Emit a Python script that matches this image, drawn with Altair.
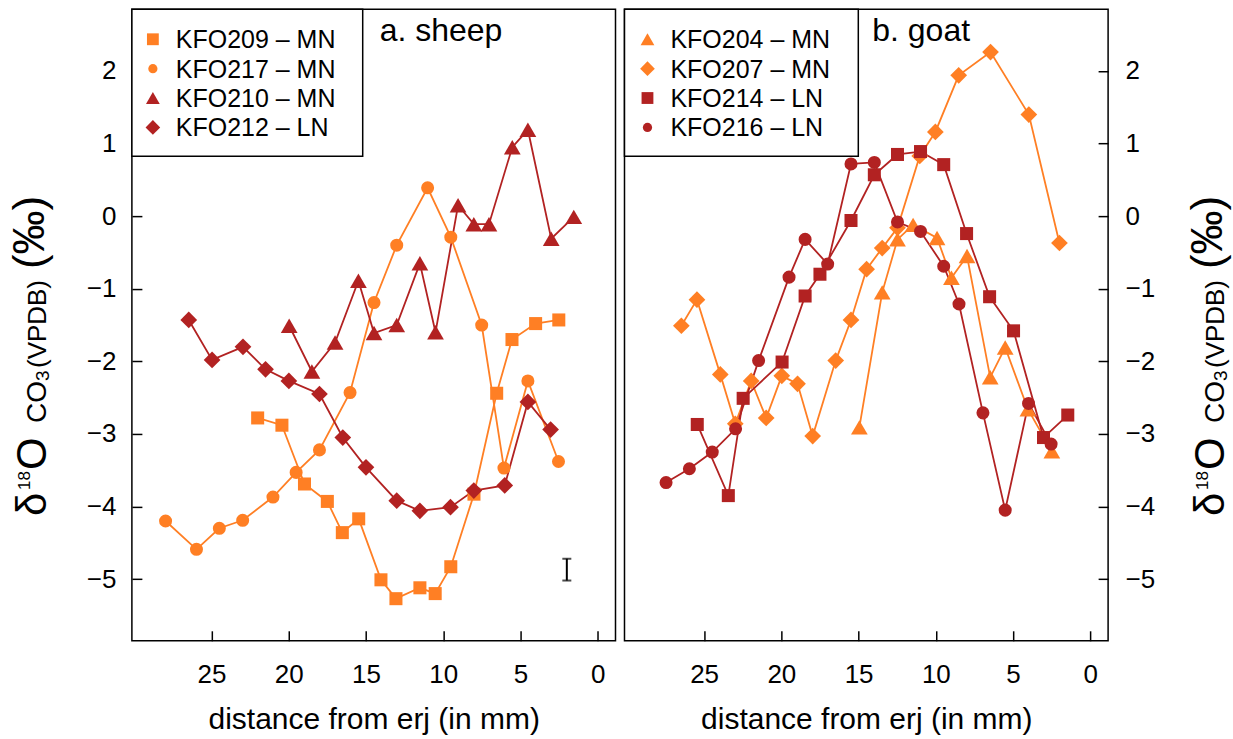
import altair as alt
import pandas as pd

FONT = "Liberation Sans"
ORANGE = "#FF7F24"
RED = "#B22222"

# ---------------- panel a: sheep ----------------
sheep_names = ["KFO209 – MN", "KFO217 – MN", "KFO210 – MN", "KFO212 – LN"]
kfo209_x = [22.01, 20.44, 18.98, 17.50, 16.53, 15.47, 14.03, 13.06, 11.51, 10.52, 9.51, 8.01, 6.54, 5.55, 4.02, 2.52]
kfo209_y = [-2.78, -2.88, -3.69, -3.93, -4.36, -4.17, -5.01, -5.27, -5.12, -5.20, -4.83, -3.83, -2.44, -1.70, -1.48, -1.43]
kfo217_x = [27.97, 25.97, 24.49, 22.98, 21.02, 19.52, 18.01, 16.03, 14.48, 13.01, 11.01, 9.51, 7.51, 6.07, 4.52, 2.54]
kfo217_y = [-4.20, -4.59, -4.30, -4.19, -3.87, -3.53, -3.22, -2.43, -1.19, -0.40, 0.39, -0.29, -1.50, -3.47, -2.27, -3.38]
kfo210_x = [19.97, 18.50, 17.00, 15.49, 14.48, 13.01, 11.51, 10.50, 9.04, 8.02, 7.04, 5.53, 4.52, 3.01, 1.55]
kfo210_y = [-1.51, -2.14, -1.74, -0.89, -1.61, -1.50, -0.65, -1.60, 0.15, -0.11, -0.11, 0.95, 1.19, -0.31, -0.01]
kfo212_x = [26.47, 24.96, 22.96, 21.50, 19.99, 18.01, 16.50, 15.00, 13.01, 11.51, 9.53, 8.02, 6.02, 4.52, 3.05]
kfo212_y = [-1.43, -1.98, -1.80, -2.11, -2.27, -2.45, -3.05, -3.46, -3.92, -4.06, -4.01, -3.78, -3.71, -2.56, -2.94]

# analytical error bar (panel a)
err_x = [2.0]
err_lo = [-5.02]
err_hi = [-4.72]

# ---------------- panel b: goat ----------------
goat_names = ["KFO204 – MN", "KFO207 – MN", "KFO214 – LN", "KFO216 – LN"]
kfo204_x = [14.95, 13.47, 12.48, 11.47, 9.92, 8.99, 7.98, 6.48, 5.51, 4.04, 2.49]
kfo204_y = [-2.91, -1.05, -0.32, -0.12, -0.30, -0.85, -0.55, -2.22, -1.81, -2.66, -3.24]
kfo207_x = [26.47, 25.46, 23.95, 22.98, 21.95, 20.98, 19.97, 18.95, 17.97, 16.48, 15.49, 14.48, 13.47, 12.48, 11.04, 10.03, 8.52, 6.46, 3.98, 2.00]
kfo207_y = [-1.51, -1.15, -2.18, -2.86, -2.27, -2.78, -2.20, -2.31, -3.03, -1.99, -1.43, -0.73, -0.44, -0.16, 0.83, 1.16, 1.94, 2.26, 1.40, -0.37]
kfo214_x = [25.44, 23.43, 22.47, 19.95, 18.46, 17.50, 15.49, 13.98, 12.48, 10.99, 9.49, 8.01, 6.52, 4.97, 3.03, 1.46]
kfo214_y = [-2.87, -3.85, -2.51, -2.01, -1.10, -0.80, -0.06, 0.57, 0.85, 0.89, 0.71, -0.24, -1.11, -1.58, -3.05, -2.74]
kfo216_x = [27.46, 25.95, 24.47, 22.96, 21.47, 19.50, 18.46, 17.00, 15.49, 13.98, 12.48, 10.99, 9.49, 8.50, 6.95, 5.51, 4.00, 2.54]
kfo216_y = [-3.67, -3.48, -3.25, -2.93, -1.99, -0.84, -0.32, -0.66, 0.72, 0.74, -0.08, -0.21, -0.69, -1.21, -2.71, -4.05, -2.58, -3.14]

x_ticks = [25, 20, 15, 10, 5, 0]
y_ticks = [-5, -4, -3, -2, -1, 0, 1, 2]

sheep_colors = [ORANGE, ORANGE, RED, RED]
sheep_shapes = ["square", "circle", "triangle-up", "diamond"]
goat_colors = [ORANGE, ORANGE, RED, RED]
goat_shapes = ["triangle-up", "diamond", "square", "circle"]

# marker area per shape (plot) and (legend)
plot_size = {"square": 170, "circle": 170, "triangle-up": 280, "diamond": 280}
legend_size = {"square": 140, "circle": 85, "triangle-up": 190, "diamond": 215}

# y-axis title pieces: (text, font size, baseline shift, start position along the axis in px)
title_pieces = [("δ", 42, 0, 507), ("18", 17, -16, 481), ("O", 42, 0, 461),
                ("CO", 28, 0, 414), ("3", 19, 3, 372), ("(VPDB)", 26, 0, 359), ("(‰)", 44, -2, 260)]

PLOT_W, PLOT_H = 484, 632
X_DOMAIN = [-1.15, 30.15]
Y_DOMAIN = [-5.85, 2.85]


def long_df(names, xs, ys):
    rows = []
    for n, xv, yv in zip(names, xs, ys):
        for i, (a, b) in enumerate(zip(xv, yv)):
            rows.append({"series": n, "idx": i, "x": a, "y": b})
    return pd.DataFrame(rows)


sheep_df = long_df(sheep_names, [kfo209_x, kfo217_x, kfo210_x, kfo212_x],
                   [kfo209_y, kfo217_y, kfo210_y, kfo212_y])
goat_df = long_df(goat_names, [kfo204_x, kfo207_x, kfo214_x, kfo216_x],
                  [kfo204_y, kfo207_y, kfo214_y, kfo216_y])


def one(text):
    return alt.Chart(pd.DataFrame({"t": [text]}))


def panel(df, names, colors, shapes, label, y_orient, title_base_x, label_pad,
          legend_w, sym_x, text_x, extra=None):
    xenc = alt.X("x:Q",
                 scale=alt.Scale(domain=X_DOMAIN, reverse=True, nice=False, zero=False),
                 axis=alt.Axis(values=x_ticks, orient="bottom", offset=-10, tickSize=10,
                               domain=False, labelPadding=21, labelFontSize=26, format="d",
                               title="distance from erj (in mm)", titleFontSize=30,
                               titlePadding=17, titleFontWeight="normal", grid=False))
    yenc = alt.Y("y:Q",
                 scale=alt.Scale(domain=Y_DOMAIN, nice=False, zero=False),
                 axis=alt.Axis(values=y_ticks, orient=y_orient, offset=-10, tickSize=10,
                               domain=False, labelPadding=label_pad, labelFontSize=26,
                               format="d", title="", grid=False))
    base = alt.Chart(df)
    layers = [base.mark_line(strokeWidth=1.8).encode(
        x=xenc, y=yenc,
        stroke=alt.Stroke("series:N", scale=alt.Scale(domain=names, range=colors), legend=None),
        detail="series:N", order="idx:Q")]
    for n, c, s in zip(names, colors, shapes):
        layers.append(base.transform_filter(alt.datum.series == n).mark_point(
            filled=True, opacity=1, strokeWidth=0, size=plot_size[s], shape=s, color=c).encode(
            x=xenc, y=yenc))
    # legend box
    layers.append(one("box").mark_rect(fill="white", stroke="black", strokeWidth=1.5).encode(
        x=alt.value(0), x2=alt.value(legend_w), y=alt.value(0), y2=alt.value(147)))
    for i, (n, c, s) in enumerate(zip(names, colors, shapes)):
        ry = 30 + 29.4 * i
        layers.append(one(n).mark_point(filled=True, opacity=1, strokeWidth=0,
                                         size=legend_size[s], shape=s, color=c).encode(
            x=alt.value(sym_x), y=alt.value(ry)))
        layers.append(one(n).mark_text(align="left", baseline="middle", fontSize=25,
                                       font=FONT, color="black").encode(
            text="t:N", x=alt.value(text_x), y=alt.value(ry + 1)))
    layers.append(one(label).mark_text(
        align="left", baseline="alphabetic", fontSize=32, font=FONT, color="black").encode(
        text="t:N", x=alt.value(248), y=alt.value(32)))
    for txt, fs, shift, pos in title_pieces:
        layers.append(one(txt).mark_text(
            align="left", baseline="alphabetic", angle=270, fontSize=fs, font=FONT,
            color="black").encode(text="t:N", x=alt.value(title_base_x + shift), y=alt.value(pos)))
    if extra is not None:
        layers.extend(extra)
    return alt.layer(*layers).properties(width=PLOT_W, height=PLOT_H)


err_df = pd.DataFrame({"x": err_x, "lo": err_lo, "hi": err_hi})
exs = alt.Scale(domain=X_DOMAIN, reverse=True, nice=False, zero=False)
eys = alt.Scale(domain=Y_DOMAIN, nice=False, zero=False)
err_rule = alt.Chart(err_df).mark_rule(color="black", strokeWidth=2).encode(
    x=alt.X("x:Q", scale=exs), y=alt.Y("lo:Q", scale=eys), y2="hi:Q")
err_cap1 = alt.Chart(err_df).mark_tick(color="black", orient="horizontal", size=9, thickness=2).encode(
    x=alt.X("x:Q", scale=exs), y=alt.Y("lo:Q", scale=eys))
err_cap2 = alt.Chart(err_df).mark_tick(color="black", orient="horizontal", size=9, thickness=2).encode(
    x=alt.X("x:Q", scale=exs), y=alt.Y("hi:Q", scale=eys))

left = panel(sheep_df, sheep_names, sheep_colors, sheep_shapes, "a. sheep",
             "left", -86, 16, 231, 21, 44, extra=[err_rule, err_cap1, err_cap2])
right = panel(goat_df, goat_names, goat_colors, goat_shapes, "b. goat",
              "right", 600, 17, 234, 23, 46)

chart = alt.hconcat(left, right, spacing=6).resolve_scale(stroke="independent").properties(
    padding={"left": 8, "top": 7, "right": 0, "bottom": 0}
).configure_view(stroke="black", strokeWidth=1.5).configure_axis(
    labelFont=FONT, titleFont=FONT, labelColor="black", titleColor="black",
    tickColor="black", tickWidth=1.5
).configure_text(font=FONT)

chart.save("out.html", embed_options={"renderer": "svg", "actions": False})
